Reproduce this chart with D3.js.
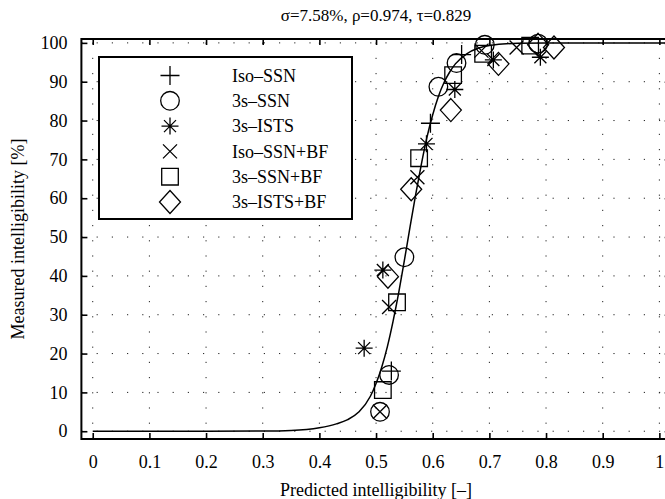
<!DOCTYPE html>
<html>
<head>
<meta charset="utf-8">
<script src="https://cdn.jsdelivr.net/npm/d3@7"></script>
<style>
  body { margin: 0; background: #fff; }
  svg { display: block; }
  svg text { font-family: "Liberation Serif", "Times New Roman", "DejaVu Serif", serif !important; fill: #000; }
</style>
</head>
<body>
<svg id="chart" width="665" height="499"></svg>
<script>
// ---------------- data ----------------
const titleText = "σ=7.58%, ρ=0.974, τ=0.829";
const xLabel = "Predicted intelligibility [–]";
const yLabel = "Measured intelligibility [%]";

const xTicks = [0, 0.1, 0.2, 0.3, 0.4, 0.5, 0.6, 0.7, 0.8, 0.9, 1];
const xTickLabels = ["0", "0.1", "0.2", "0.3", "0.4", "0.5", "0.6", "0.7", "0.8", "0.9", "1"];
const yTicks = [0, 10, 20, 30, 40, 50, 60, 70, 80, 90, 100];
const yTickLabels = ["0", "10", "20", "30", "40", "50", "60", "70", "80", "90", "100"];

const seriesNames = ["Iso–SSN", "3s–SSN", "3s–ISTS", "Iso–SSN+BF", "3s–SSN+BF", "3s–ISTS+BF"];
const seriesMarkers = ["plus", "circle", "star", "cross", "square", "diamond"];

const isoSSN   = [[0.527, 15.5], [0.596, 79.3], [0.651, 97.0]];
const ssn3s    = [[0.507, 5.0], [0.523, 14.5], [0.550, 44.8], [0.610, 88.7], [0.642, 94.8], [0.692, 99.5], [0.786, 99.8]];
const ists3s   = [[0.479, 21.4], [0.512, 41.5], [0.589, 74.0], [0.639, 88.0], [0.707, 95.6], [0.790, 96.3]];
const isoSSNBF = [[0.507, 5.0], [0.523, 32.0], [0.573, 65.4], [0.686, 98.0], [0.748, 98.8]];
const ssn3sBF  = [[0.512, 10.6], [0.537, 33.2], [0.576, 70.3], [0.636, 91.7], [0.689, 97.2], [0.772, 99.3]];
const ists3sBF = [[0.521, 39.8], [0.562, 62.3], [0.632, 82.7], [0.716, 94.6], [0.786, 99.5], [0.814, 98.8]];
const seriesData = [isoSSN, ssn3s, ists3s, isoSSNBF, ssn3sBF, ists3sBF];

// fitted mapping curve
const curveX = [0, 0.2, 0.3, 0.35, 0.4, 0.43, 0.45, 0.47, 0.49, 0.5, 0.51, 0.52, 0.53, 0.54, 0.55, 0.56, 0.57, 0.58, 0.59, 0.6, 0.61, 0.62, 0.63, 0.64, 0.66, 0.68, 0.7, 0.75, 0.8, 1.02];
const curveY = [0, 0, 0.05, 0.2, 0.9, 1.9, 3.0, 5.0, 9.0, 12.3, 16.5, 21.8, 28.3, 35.7, 44.0, 52.6, 61.0, 68.8, 75.8, 81.5, 86.2, 89.8, 92.5, 94.6, 97.2, 98.6, 99.3, 99.9, 100, 100];

// ---------------- layout ----------------
const FONT = '"Liberation Serif", "Times New Roman", "DejaVu Serif", serif';
const svg = d3.select("#chart").attr("font-family", FONT);
const W = 665, H = 499;
const plot = { left: 81.4, right: 670.7, top: 39, bottom: 439 };

const x = d3.scaleLinear().domain([-0.02, 1.02]).range([plot.left, plot.right]);
const y = d3.scaleLinear().domain([-2, 101]).range([plot.bottom, plot.top]);

svg.append("rect").attr("width", W).attr("height", H).attr("fill", "#fff");

// grid (dotted)
const grid = svg.append("g");
grid.selectAll("line.gx").data(xTicks).enter().append("line")
  .attr("x1", d => x(d)).attr("x2", d => x(d))
  .attr("y1", plot.bottom).attr("y2", plot.top)
  .attr("stroke", "#222").attr("stroke-width", 1)
  .attr("stroke-dasharray", "1.2,14");
grid.selectAll("line.gy").data(yTicks).enter().append("line")
  .attr("x1", plot.left).attr("x2", plot.right)
  .attr("y1", d => y(d)).attr("y2", d => y(d))
  .attr("stroke", "#222").attr("stroke-width", 1)
  .attr("stroke-dasharray", "1.2,14");

// axes with inward ticks
const tickLen = 6;
const axB = d3.axisBottom(x).tickValues(xTicks).tickFormat((d, i) => xTickLabels[i]).tickSizeInner(-tickLen).tickSizeOuter(0).tickPadding(16);
const gB = svg.append("g").attr("transform", `translate(0,${plot.bottom})`).call(axB);
const axT = d3.axisTop(x).tickValues(xTicks).tickFormat("").tickSizeInner(-tickLen).tickSizeOuter(0);
const gT = svg.append("g").attr("transform", `translate(0,${plot.top})`).call(axT);
const axL = d3.axisLeft(y).tickValues(yTicks).tickFormat((d, i) => yTickLabels[i]).tickSizeInner(-tickLen).tickSizeOuter(0).tickPadding(14);
const gL = svg.append("g").attr("transform", `translate(${plot.left},0)`).call(axL);
const axR = d3.axisRight(y).tickValues(yTicks).tickFormat("").tickSizeInner(-tickLen).tickSizeOuter(0);
const gR = svg.append("g").attr("transform", `translate(${plot.right},0)`).call(axR);

[gB, gT, gL, gR].forEach(g => {
  g.attr("font-family", FONT).attr("font-size", 18);
  g.select(".domain").remove();
  g.selectAll(".tick line").attr("stroke", "#000").attr("stroke-width", 1.6);
  g.selectAll(".tick text").attr("fill", "#000");
});

// frame
svg.append("rect")
  .attr("x", plot.left).attr("y", plot.top)
  .attr("width", plot.right - plot.left).attr("height", plot.bottom - plot.top)
  .attr("fill", "none").attr("stroke", "#000").attr("stroke-width", 2);

// curve
const curvePts = curveX.map((v, i) => [v, curveY[i]]);
const line = d3.line().x(d => x(d[0])).y(d => y(d[1])).curve(d3.curveMonotoneX);
svg.append("path").datum(curvePts).attr("d", line)
  .attr("fill", "none").attr("stroke", "#000").attr("stroke-width", 1.5);

// marker shapes
function markerPath(type) {
  switch (type) {
    case "plus": { const r = 9.5; return `M${-r},0H${r}M0,${-r}V${r}`; }
    case "cross": { const r = 7; return `M${-r},${-r}L${r},${r}M${-r},${r}L${r},${-r}`; }
    case "star": { const r = 8.5, c = 6; return `M${-r},0H${r}M0,${-r}V${r}M${-c},${-c}L${c},${c}M${-c},${c}L${c},${-c}`; }
    case "circle": { const r = 9.3; return `M${r},0A${r},${r} 0 1,1 ${-r},0A${r},${r} 0 1,1 ${r},0Z`; }
    case "square": { const r = 8.3; return `M${-r},${-r}H${r}V${r}H${-r}Z`; }
    case "diamond": { const rx = 10.5, ry = 11.5; return `M0,${-ry}L${rx},0L0,${ry}L${-rx},0Z`; }
  }
}

const marks = svg.append("g");
seriesData.forEach((data, si) => {
  marks.selectAll(null).data(data).enter().append("path")
    .attr("transform", d => `translate(${x(d[0])},${y(d[1])})`)
    .attr("d", markerPath(seriesMarkers[si]))
    .attr("fill", "none").attr("stroke", "#000").attr("stroke-width", 1.3);
});

// legend
const leg = { x: 99, y: 57, w: 253, h: 162, row0: 75.5, rowStep: 25.3, mx: 170, tx: 232 };
svg.append("rect").attr("x", leg.x).attr("y", leg.y).attr("width", leg.w).attr("height", leg.h)
  .attr("fill", "#fff").attr("stroke", "#000").attr("stroke-width", 2);
const lg = svg.append("g");
seriesNames.forEach((name, i) => {
  const yy = leg.row0 + i * leg.rowStep;
  lg.append("path").attr("transform", `translate(${leg.mx},${yy})`)
    .attr("d", markerPath(seriesMarkers[i]))
    .attr("fill", "none").attr("stroke", "#000").attr("stroke-width", 1.3);
  lg.append("text").attr("x", leg.tx).attr("y", yy).attr("dy", "0.35em")
    .attr("font-size", 18).text(name);
});

// title & axis labels
svg.append("text").attr("x", (plot.left + plot.right) / 2).attr("y", 21)
  .attr("text-anchor", "middle").attr("font-size", 17).text(titleText);
svg.append("text").attr("x", (plot.left + plot.right) / 2).attr("y", 496)
  .attr("text-anchor", "middle").attr("font-size", 18).text(xLabel);
svg.append("text").attr("transform", `translate(24,${(plot.top + plot.bottom) / 2}) rotate(-90)`)
  .attr("text-anchor", "middle").attr("font-size", 18).text(yLabel);
</script>
</body>
</html>
